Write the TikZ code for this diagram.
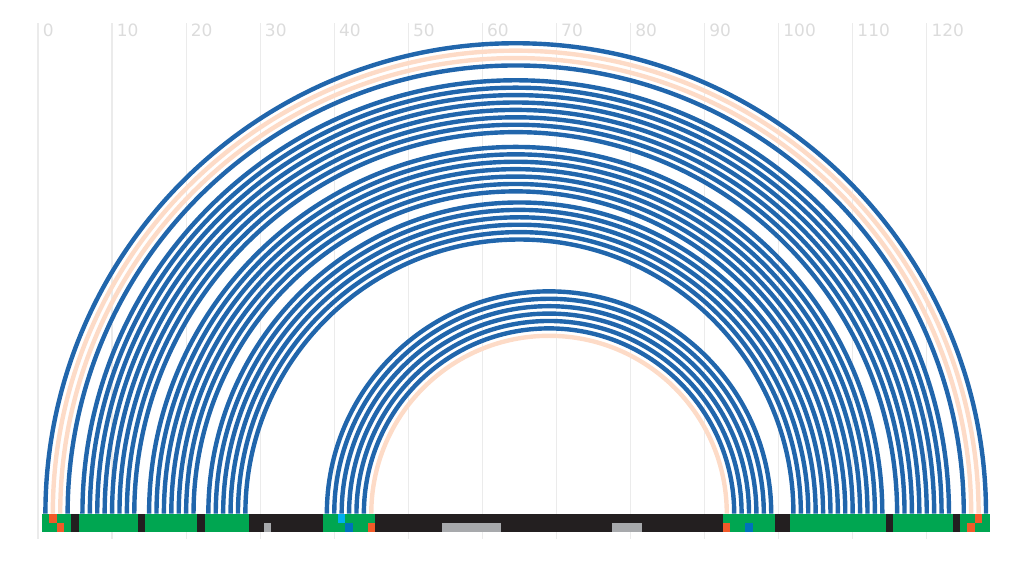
\documentclass[tikz,border=0pt]{standalone}
\usepackage{xcolor}
\usepackage{fontspec}
\setmainfont{DejaVu Sans}
\usepackage{tikz}
\usetikzlibrary{positioning}
\definecolor{arcblue}{HTML}{2166AC}
\definecolor{arcpeach}{HTML}{FDDBC7}
\definecolor{pairgreen}{HTML}{00A651}
\definecolor{unpaired}{HTML}{231F20}
\definecolor{mismatch}{HTML}{F15A29}
\definecolor{shiftcyan}{HTML}{00AEEF}
\definecolor{shiftblue}{HTML}{0072BC}
\definecolor{gapgray}{HTML}{A7A9AC}
\definecolor{gridline}{HTML}{EBEBEB}
\definecolor{ticklabel}{HTML}{DCDCDC}
\tikzset{
    pairarc/.style={draw=arcblue, line width=4.4pt},
    onlyarc/.style={draw=arcpeach, line width=4.4pt},
    gridrule/.style={draw=gridline, line width=1.2pt},
    ticktext/.style={
        font=\fontsize{17}{17}\selectfont, color=ticklabel,
        anchor=base west, inner sep=0pt
    },
}

\begin{document}
\begin{tikzpicture}[x=7.406pt, y=7.406pt]
    \useasboundingbox (-5.131,-6.279) rectangle (133.13,69.34);
    % axis
    \foreach \k in {0,10,...,120} {
        \draw[gridrule] (\k,-3.44) -- (\k,66.23);
        \node[ticktext] (tick\k) at (\k+0.62,64.47) {\k};
    }
    % pairs in both structures
    \foreach \i/\j in {1/128, 4/125,
            6/123, 7/122, 8/121, 9/120, 10/119, 11/118, 12/117, 13/116,
            15/114, 16/113, 17/112, 18/111, 19/110, 20/109, 21/108,
            23/107, 24/106, 25/105, 26/104, 27/103, 28/102,
            39/99, 40/98, 41/97, 42/96, 43/95, 44/94}
        \draw[pairarc] (\i,0) arc[start angle=180, end angle=0, radius={(\j-\i)/2}];
    % pairs in one structure only
    \foreach \i/\j in {2/127, 3/126, 45/93}
        \draw[onlyarc] (\i,0) arc[start angle=180, end angle=0, radius={(\j-\i)/2}];
    % sequence bar
    \fill[unpaired] (0.5,-2.5) rectangle (128.5,0);
    \foreach \a/\b in {1/4, 6/13, 15/21, 23/28, 39/45, 93/99, 102/114, 116/123, 125/128}
        \fill[pairgreen] (\a-0.5,-2.5) rectangle (\b+0.5,0);
    \foreach \a/\b in {31/31, 55/62, 78/81}
        \fill[gapgray] (\a-0.5,-2.5) rectangle (\b+0.5,-1.25);
    \foreach \n/\y/\c in {2/-1.25/mismatch, 3/-2.5/mismatch, 41/-1.25/shiftcyan,
            42/-2.5/shiftblue, 45/-2.5/mismatch, 93/-2.5/mismatch,
            96/-2.5/shiftblue, 126/-2.5/mismatch, 127/-1.25/mismatch}
        \fill[\c] (\n-0.5,\y) rectangle ++(1,1.25);
\end{tikzpicture}
\end{document}
